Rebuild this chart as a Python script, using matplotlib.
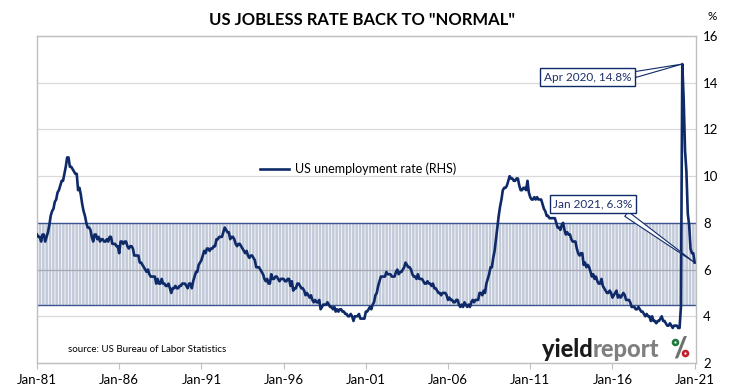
import matplotlib
matplotlib.use("Agg")
import matplotlib.pyplot as plt
from matplotlib.patches import Circle
from matplotlib.transforms import IdentityTransform
import numpy as np

# ---------------- data: US unemployment rate, monthly, Jan 1981 - Jan 2021 (%)
rate_1980s = [
    7.5, 7.4, 7.4, 7.2, 7.5, 7.5, 7.2, 7.4, 7.6, 7.9, 8.3, 8.5,   # 1981
    8.6, 8.9, 9.0, 9.3, 9.4, 9.6, 9.8, 9.8, 10.1, 10.4, 10.8, 10.8,  # 1982
    10.4, 10.4, 10.3, 10.2, 10.1, 10.1, 9.4, 9.5, 9.2, 8.8, 8.5, 8.3,  # 1983
    8.0, 7.8, 7.8, 7.7, 7.4, 7.2, 7.5, 7.5, 7.3, 7.4, 7.2, 7.3,   # 1984
    7.3, 7.2, 7.2, 7.3, 7.2, 7.4, 7.4, 7.1, 7.1, 7.1, 7.0, 7.0,   # 1985
    6.7, 7.2, 7.2, 7.1, 7.2, 7.2, 7.0, 6.9, 7.0, 7.0, 6.9, 6.6,   # 1986
    6.6, 6.6, 6.6, 6.3, 6.3, 6.2, 6.1, 6.0, 5.9, 6.0, 5.8, 5.7,   # 1987
    5.7, 5.7, 5.7, 5.4, 5.6, 5.4, 5.4, 5.6, 5.4, 5.4, 5.3, 5.3,   # 1988
    5.4, 5.2, 5.0, 5.2, 5.2, 5.3, 5.2, 5.2, 5.3, 5.3, 5.4, 5.4,   # 1989
]
rate_1990s = [
    5.4, 5.3, 5.2, 5.4, 5.4, 5.2, 5.5, 5.7, 5.9, 5.9, 6.2, 6.3,   # 1990
    6.4, 6.6, 6.8, 6.7, 6.9, 6.9, 6.8, 6.9, 6.9, 7.0, 7.0, 7.3,   # 1991
    7.3, 7.4, 7.4, 7.4, 7.6, 7.8, 7.7, 7.6, 7.6, 7.3, 7.4, 7.4,   # 1992
    7.3, 7.1, 7.0, 7.1, 7.1, 7.0, 6.9, 6.8, 6.7, 6.8, 6.6, 6.5,   # 1993
    6.6, 6.6, 6.5, 6.4, 6.1, 6.1, 6.1, 6.0, 5.9, 5.8, 5.6, 5.5,   # 1994
    5.6, 5.4, 5.4, 5.8, 5.6, 5.6, 5.7, 5.7, 5.6, 5.5, 5.6, 5.6,   # 1995
    5.6, 5.5, 5.5, 5.6, 5.6, 5.3, 5.5, 5.1, 5.2, 5.2, 5.4, 5.4,   # 1996
    5.3, 5.2, 5.2, 5.1, 4.9, 5.0, 4.9, 4.8, 4.9, 4.7, 4.6, 4.7,   # 1997
    4.6, 4.6, 4.7, 4.3, 4.4, 4.5, 4.5, 4.5, 4.6, 4.5, 4.4, 4.4,   # 1998
    4.3, 4.4, 4.2, 4.3, 4.2, 4.3, 4.3, 4.2, 4.2, 4.1, 4.1, 4.0,   # 1999
]
rate_2000s = [
    4.0, 4.1, 4.0, 3.8, 4.0, 4.0, 4.0, 4.1, 3.9, 3.9, 3.9, 3.9,   # 2000
    4.2, 4.2, 4.3, 4.4, 4.3, 4.5, 4.6, 4.9, 5.0, 5.3, 5.5, 5.7,   # 2001
    5.7, 5.7, 5.7, 5.9, 5.8, 5.8, 5.8, 5.7, 5.7, 5.7, 5.9, 6.0,   # 2002
    5.8, 5.9, 5.9, 6.0, 6.1, 6.3, 6.2, 6.1, 6.1, 6.0, 5.8, 5.7,   # 2003
    5.7, 5.6, 5.8, 5.6, 5.6, 5.6, 5.5, 5.4, 5.4, 5.5, 5.4, 5.4,   # 2004
    5.3, 5.4, 5.2, 5.2, 5.1, 5.0, 5.0, 4.9, 5.0, 5.0, 5.0, 4.9,   # 2005
    4.7, 4.8, 4.7, 4.7, 4.6, 4.6, 4.7, 4.7, 4.5, 4.4, 4.5, 4.4,   # 2006
    4.6, 4.5, 4.4, 4.5, 4.4, 4.6, 4.7, 4.6, 4.7, 4.7, 4.7, 5.0,   # 2007
    5.0, 4.9, 5.1, 5.0, 5.4, 5.6, 5.8, 6.1, 6.1, 6.5, 6.8, 7.3,   # 2008
    7.8, 8.3, 8.7, 9.0, 9.4, 9.5, 9.5, 9.6, 9.8, 10.0, 9.9, 9.9,  # 2009
]
rate_2010s = [
    9.8, 9.8, 9.9, 9.9, 9.6, 9.4, 9.4, 9.5, 9.5, 9.4, 9.8, 9.3,   # 2010
    9.1, 9.0, 9.0, 9.1, 9.0, 9.1, 9.0, 9.0, 9.0, 8.8, 8.6, 8.5,   # 2011
    8.3, 8.3, 8.2, 8.2, 8.2, 8.2, 8.2, 8.0, 7.8, 7.8, 7.7, 7.9,   # 2012
    8.0, 7.7, 7.5, 7.6, 7.5, 7.5, 7.3, 7.2, 7.2, 7.2, 6.9, 6.7,   # 2013
    6.6, 6.7, 6.7, 6.2, 6.3, 6.1, 6.2, 6.1, 5.9, 5.7, 5.8, 5.6,   # 2014
    5.7, 5.5, 5.4, 5.4, 5.6, 5.3, 5.2, 5.1, 5.0, 5.0, 5.1, 5.0,   # 2015
    4.8, 4.9, 5.0, 5.1, 4.8, 4.9, 4.8, 4.9, 5.0, 4.9, 4.7, 4.7,   # 2016
    4.7, 4.6, 4.4, 4.4, 4.4, 4.3, 4.3, 4.4, 4.3, 4.2, 4.2, 4.1,   # 2017
    4.0, 4.1, 4.0, 4.0, 3.8, 4.0, 3.8, 3.8, 3.7, 3.8, 3.8, 3.9,   # 2018
    4.0, 3.8, 3.8, 3.7, 3.6, 3.6, 3.7, 3.6, 3.5, 3.6, 3.6, 3.6,   # 2019
]
rate_2020s = [
    3.5, 3.5, 4.4, 14.8, 13.3, 11.1, 10.2, 8.4, 7.9, 6.9, 6.7, 6.7,  # 2020
    6.3,                                                            # 2021
]
start_year = 1981
band_low, band_high = 4.5, 8.0
xtick_years = [1981, 1986, 1991, 1996, 2001, 2006, 2011, 2016, 2021]
xtick_labels = ["Jan-81", "Jan-86", "Jan-91", "Jan-96", "Jan-01",
                "Jan-06", "Jan-11", "Jan-16", "Jan-21"]
ytick_values = [2, 4, 6, 8, 10, 12, 14, 16]

rate = np.array(rate_1980s + rate_1990s + rate_2000s + rate_2010s + rate_2020s)
t = start_year + np.arange(len(rate)) / 12.0

# ---------------- style
plt.rcParams['font.family'] = ['Lato', 'DejaVu Sans']
plt.rcParams['hatch.linewidth'] = 0.55
NAVY = '#0f2a68'
GRID = '#d9d9d9'
SPINE = '#bfbfbf'

fig = plt.figure(figsize=(7.3, 3.89), dpi=100)
W, H = 730, 389
L, R, T, B = 37, 696, 36, 363
ax = fig.add_axes([L / W, 1 - B / H, (R - L) / W, (B - T) / H])

ax.set_xlim(start_year, 2021 + 1 / 12)
ax.set_ylim(2, 16)

# band with vertical stripes
ax.axhspan(band_low, band_high, facecolor='#c3cad9', edgecolor='white',
           hatch='|||||', linewidth=0, zorder=1)
for yb in (band_low, band_high):
    ax.axhline(yb, color='#3a5590', lw=1.0, zorder=2)

# grid
ax.set_yticks(ytick_values)
ax.yaxis.grid(True, color=GRID, lw=0.9)
for gl in ax.get_ygridlines():
    gl.set_zorder(0.5)
ax.axhline(6, color='#a4a9b6', lw=0.9, zorder=1.6)

# series
ax.plot(t, rate, color=NAVY, lw=1.9, zorder=3, solid_joinstyle='round',
        label='US unemployment rate (RHS)')

# axes style
for s in ax.spines.values():
    s.set_color(SPINE)
    s.set_linewidth(1.0)
ax.yaxis.tick_right()
ax.tick_params(axis='y', length=0, pad=5, labelsize=9.5, labelcolor='black')
ax.set_xticks(xtick_years)
ax.set_xticklabels(xtick_labels)
ax.tick_params(axis='x', length=4, color=SPINE, pad=4, labelsize=9.5)

fig.text(712 / W, 1 - 17 / H, '%', fontsize=8.5, ha='center', va='center')

# title
fig.text(362 / W, 1 - 20 / H, 'US JOBLESS RATE BACK TO "NORMAL"',
         fontsize=12, fontweight='bold', ha='center', va='center')

# legend
ax.legend(loc='center', bbox_to_anchor=(0.487, 0.593), frameon=False,
          fontsize=9, handlelength=2.3, handletextpad=0.5)

# source
ax.text(0.047, 0.028, 'source: US Bureau of Labor Statistics', transform=ax.transAxes,
        fontsize=7, ha='left', va='bottom')

# annotations
i_peak = int(np.argmax(rate))
i_last = len(rate) - 1
ann_kw = dict(fontsize=8.5, color='#1f2f6b', ha='center', va='center',
              bbox=dict(boxstyle='square,pad=0.3', fc='white', ec=NAVY, lw=1.0))
ax.annotate('Apr 2020, 14.8%', xy=(t[i_peak], rate[i_peak]), xytext=(2014.48, 14.24),
            arrowprops=dict(arrowstyle='wedge,tail_width=0.5,shrink_factor=0.5',
                            fc='white', ec=NAVY, lw=0.8, relpos=(1.0, 0.65),
                            shrinkA=0, shrinkB=0), zorder=5, **ann_kw)
ax.annotate('Jan 2021, 6.3%', xy=(t[i_last], rate[i_last]), xytext=(2014.82, 8.79),
            arrowprops=dict(arrowstyle='wedge,tail_width=0.5,shrink_factor=0.5',
                            fc='white', ec=NAVY, lw=0.8, relpos=(0.85, 0.0),
                            shrinkA=0, shrinkB=0), zorder=5, **ann_kw)

# logo
t1 = fig.text(542 / W, 1 - 357 / H, 'yield', fontsize=17, fontweight='black',
              color='#1a1a1a', ha='left', va='baseline')
ax.annotate('report', xy=(1, 0), xycoords=t1, xytext=(0, 0),
            textcoords='offset points', fontsize=17, fontweight='black',
            color='#7f7f7f', ha='left', va='bottom')
fig.text(680.5 / W, 1 - 348 / H, '/', fontsize=21, fontweight='black',
         color='#707070', ha='center', va='center')
for (cx, cy, col) in ((675.5, 342.5, '#1e7a3c'), (685.5, 353.5, '#c0202a')):
    fig.patches.append(Circle((cx, H - cy), 3.8, transform=IdentityTransform(),
                              fc=col, ec='none'))
    fig.patches.append(Circle((cx, H - cy), 1.1, transform=IdentityTransform(),
                              fc='white', ec='none'))

fig.savefig('out.png', dpi=100)
